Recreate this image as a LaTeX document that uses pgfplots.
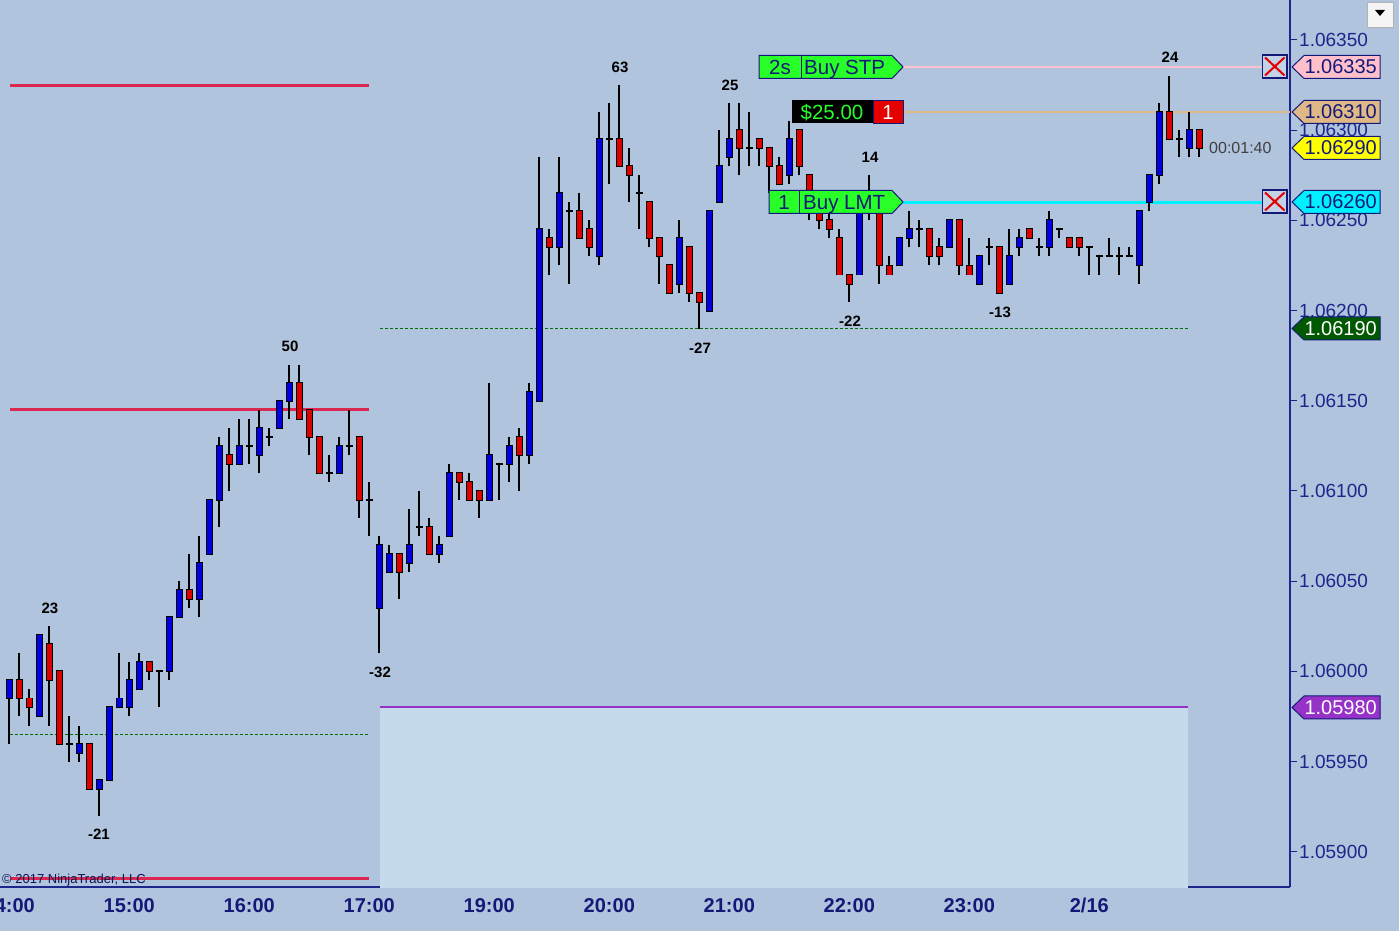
\documentclass[border=0pt]{standalone}
\usepackage{fontspec}
\setmainfont{Liberation Sans}
\usepackage{pgfplots}
\usepackage{pgfplotstable}
\pgfplotsset{compat=1.18}

\definecolor{bgc}{RGB}{176,196,222}
\definecolor{zonec}{RGB}{197,219,237}
\definecolor{upc}{RGB}{0,0,225}
\definecolor{dnc}{RGB}{220,0,0}
\definecolor{navyc}{RGB}{20,25,120}
\definecolor{axisc}{RGB}{28,38,140}
\definecolor{lvlc}{RGB}{220,40,80}
\definecolor{dgreenc}{RGB}{0,110,0}
\definecolor{purplec}{RGB}{150,50,200}
\definecolor{pinkc}{RGB}{255,192,203}
\definecolor{tanc}{RGB}{222,184,135}
\definecolor{yellowc}{RGB}{255,255,0}
\definecolor{cyanc}{RGB}{0,240,255}
\definecolor{orderc}{RGB}{40,255,40}
\definecolor{xboxc}{RGB}{195,210,230}

\newcommand\fs[1]{\fontsize{#1}{#1}\selectfont}

% candles: x = bar index (5 min bars from 14:00), prices
\pgfplotstableread{
x open high low close
0 1.05985 1.05995 1.05960 1.05995
3 1.05975 1.06020 1.05975 1.06020
7 1.05955 1.05970 1.05950 1.05960
9 1.05935 1.05940 1.05920 1.05940
10 1.05940 1.05980 1.05940 1.05980
11 1.05980 1.06010 1.05980 1.05985
12 1.05980 1.06005 1.05975 1.05995
13 1.05990 1.06010 1.05990 1.06005
16 1.06000 1.06030 1.05995 1.06030
17 1.06030 1.06050 1.06030 1.06045
19 1.06040 1.06075 1.06030 1.06060
20 1.06065 1.06095 1.06065 1.06095
21 1.06095 1.06130 1.06080 1.06125
23 1.06115 1.06140 1.06115 1.06125
25 1.06120 1.06145 1.06110 1.06135
27 1.06135 1.06150 1.06135 1.06150
28 1.06150 1.06170 1.06140 1.06160
33 1.06110 1.06130 1.06110 1.06125
37 1.06035 1.06075 1.06010 1.06070
38 1.06055 1.06070 1.06055 1.06065
40 1.06060 1.06090 1.06055 1.06070
43 1.06065 1.06075 1.06060 1.06070
44 1.06075 1.06115 1.06075 1.06110
48 1.06095 1.06160 1.06095 1.06120
50 1.06115 1.06130 1.06105 1.06125
52 1.06120 1.06160 1.06115 1.06155
53 1.06150 1.06285 1.06150 1.06245
55 1.06235 1.06285 1.06225 1.06265
59 1.06230 1.06310 1.06225 1.06295
67 1.06215 1.06250 1.06210 1.06240
70 1.06200 1.06255 1.06200 1.06255
71 1.06260 1.06300 1.06260 1.06280
72 1.06285 1.06315 1.06280 1.06295
78 1.06275 1.06305 1.06270 1.06295
85 1.06220 1.06260 1.06220 1.06255
89 1.06225 1.06240 1.06225 1.06240
90 1.06240 1.06255 1.06235 1.06245
94 1.06235 1.06250 1.06235 1.06250
97 1.06215 1.06230 1.06215 1.06230
100 1.06215 1.06245 1.06215 1.06230
101 1.06235 1.06245 1.06230 1.06240
104 1.06235 1.06255 1.06230 1.06250
113 1.06225 1.06255 1.06215 1.06255
114 1.06260 1.06275 1.06255 1.06275
115 1.06275 1.06315 1.06270 1.06310
118 1.06290 1.06310 1.06285 1.06300
}\upbars

\pgfplotstableread{
x open high low close
1 1.05995 1.06010 1.05975 1.05985
2 1.05985 1.05990 1.05970 1.05980
4 1.06015 1.06025 1.05970 1.05995
5 1.06000 1.06000 1.05960 1.05960
8 1.05960 1.05960 1.05935 1.05935
14 1.06005 1.06005 1.05995 1.06000
18 1.06045 1.06065 1.06035 1.06040
22 1.06120 1.06135 1.06100 1.06115
29 1.06160 1.06170 1.06140 1.06140
30 1.06145 1.06145 1.06120 1.06130
31 1.06130 1.06130 1.06110 1.06110
35 1.06130 1.06130 1.06085 1.06095
39 1.06065 1.06065 1.06040 1.06055
42 1.06080 1.06085 1.06065 1.06065
45 1.06110 1.06110 1.06095 1.06105
46 1.06105 1.06110 1.06095 1.06095
47 1.06100 1.06100 1.06085 1.06095
51 1.06130 1.06135 1.06100 1.06120
54 1.06240 1.06245 1.06220 1.06235
57 1.06255 1.06265 1.06240 1.06240
58 1.06245 1.06250 1.06230 1.06235
61 1.06295 1.06325 1.06280 1.06280
62 1.06280 1.06290 1.06260 1.06275
64 1.06260 1.06260 1.06235 1.06240
65 1.06240 1.06240 1.06215 1.06230
66 1.06225 1.06225 1.06210 1.06210
68 1.06235 1.06235 1.06205 1.06210
69 1.06210 1.06210 1.06190 1.06205
73 1.06300 1.06315 1.06275 1.06290
75 1.06295 1.06295 1.06280 1.06290
76 1.06290 1.06290 1.06265 1.06280
77 1.06280 1.06285 1.06270 1.06270
79 1.06300 1.06300 1.06275 1.06280
80 1.06275 1.06275 1.06250 1.06260
81 1.06255 1.06260 1.06245 1.06250
82 1.06250 1.06255 1.06240 1.06245
83 1.06240 1.06245 1.06220 1.06220
84 1.06220 1.06220 1.06205 1.06215
86 1.06260 1.06275 1.06250 1.06255
87 1.06255 1.06255 1.06215 1.06225
88 1.06225 1.06230 1.06220 1.06220
92 1.06245 1.06245 1.06225 1.06230
93 1.06235 1.06240 1.06225 1.06230
95 1.06250 1.06250 1.06220 1.06225
96 1.06225 1.06240 1.06220 1.06220
99 1.06235 1.06235 1.06210 1.06210
102 1.06245 1.06245 1.06240 1.06240
106 1.06240 1.06240 1.06235 1.06235
107 1.06240 1.06240 1.06230 1.06235
116 1.06310 1.06330 1.06295 1.06295
119 1.06300 1.06300 1.06285 1.06290
}\downbars

\pgfplotstableread{
x open high low close
6 1.05960 1.05975 1.05950 1.05960
15 1.06000 1.06000 1.05980 1.06000
24 1.06125 1.06140 1.06115 1.06125
26 1.06130 1.06135 1.06125 1.06130
32 1.06110 1.06120 1.06105 1.06110
34 1.06125 1.06145 1.06120 1.06125
36 1.06095 1.06105 1.06075 1.06095
41 1.06080 1.06100 1.06075 1.06080
49 1.06115 1.06115 1.06095 1.06115
56 1.06255 1.06260 1.06215 1.06255
60 1.06295 1.06315 1.06270 1.06295
63 1.06265 1.06275 1.06245 1.06265
74 1.06290 1.06310 1.06280 1.06290
91 1.06245 1.06250 1.06235 1.06245
98 1.06235 1.06240 1.06225 1.06235
103 1.06235 1.06240 1.06230 1.06235
105 1.06245 1.06245 1.06240 1.06245
108 1.06235 1.06235 1.06220 1.06235
109 1.06230 1.06230 1.06220 1.06230
110 1.06230 1.06240 1.06230 1.06230
111 1.06230 1.06235 1.06220 1.06230
112 1.06230 1.06235 1.06230 1.06230
117 1.06295 1.06300 1.06285 1.06295
}\dojibars

\pgfplotsset{
  wick/.style={draw=none, mark=none, forget plot,
    error bars/.cd, y dir=plus, y explicit, error mark=none,
    error bar style={draw=black, line width=2pt, line cap=butt}},
  bodybar/.style 2 args={draw=none, mark=none, forget plot,
    error bars/.cd, y dir=plus, y explicit, error mark=none,
    error bar style={draw=#1, line width=#2, line cap=butt}},
}

\newcommand\pricetag[4]{%
  \draw[navyc, line width=1pt, fill=#3] (1292,#1) -- (1304,#1-11.5) -- (1380,#1-11.5)
     -- (1380,#1+11.5) -- (1304,#1+11.5) -- cycle;
  \node[anchor=east, inner sep=0pt, text=#4, font=\fs{20}] at (1377,#1) {#2};}
\newcommand\xbox[1]{%
  \draw[navyc, line width=1.2pt, fill=xboxc] (1262.5,#1-11.5) rectangle (1287,#1+11.5);
  \draw[red!90!black, line width=2pt] (1265,#1-9) -- (1284.5,#1+9) (1265,#1+9) -- (1284.5,#1-9);}

\begin{document}
\begin{tikzpicture}[x=1pt,y=1pt]
\fill[bgc] (0,0) rectangle (1399,931);
\path[use as bounding box] (0,0) rectangle (1399,931);
\begin{axis}[
  at={(0pt,44pt)}, anchor=south west,
  scale only axis, width=1290pt, height=887pt,
  xmin=-0.93, xmax=128.07,
  ymin=1.0588049, ymax=1.0637217,
  axis x line*=bottom, axis y line*=right,
  axis line style={axisc, line width=1.2pt, -},
  xtick={0,12,24,36,48,60,72,84,96,108},
  xticklabels={14:00,15:00,16:00,17:00,19:00,20:00,21:00,22:00,23:00,2/16},
  xtick style={draw=none},
  xticklabel style={font={\fs{20}\bfseries}, text=navyc, anchor=north, yshift=-4pt, inner sep=0pt},
  ytick={1.059,1.0595,1.06,1.0605,1.061,1.0615,1.062,1.0625,1.063,1.0635},
  yticklabels={1.05900,1.05950,1.06000,1.06050,1.06100,1.06150,1.06200,1.06250,1.06300,1.06350},
  tick align=outside, major tick length=7pt,
  ytick style={axisc, line width=1pt},
  yticklabel style={font=\fs{19}, text=axisc, anchor=west, inner sep=0pt, xshift=2pt},
]
% zone and levels
\addplot[fill=zonec, draw=none] coordinates {(37.07,1.0588) (37.07,1.0598) (117.87,1.0598) (117.87,1.0588)} -- cycle;
\addplot[purplec, line width=2pt] coordinates {(37.07,1.0598) (117.87,1.0598)};
\addplot[lvlc, line width=3pt] coordinates {(0.07,1.06325) (35.97,1.06325)};
\addplot[lvlc, line width=3pt] coordinates {(0.07,1.06145) (35.97,1.06145)};
\addplot[lvlc, line width=3pt] coordinates {(0.07,1.05885) (35.97,1.05885)};
\addplot[dgreenc, line width=0.8pt, dash pattern=on 3pt off 2pt] coordinates {(0.07,1.05965) (35.9,1.05965)};
\addplot[dgreenc, line width=0.8pt, dash pattern=on 3pt off 2pt] coordinates {(37.07,1.0619) (117.87,1.0619)};
\addplot[pinkc, line width=1.5pt] coordinates {(89.1,1.06335) (125.3,1.06335)};
\addplot[tanc, line width=2pt] coordinates {(89.4,1.0631) (128.07,1.0631)};
\addplot[cyanc, line width=3pt] coordinates {(89.1,1.0626) (125.3,1.0626)};
% wicks
\addplot[wick] table[x=x, y=low, y error expr=\thisrow{high}-\thisrow{low}] \upbars;
\addplot[wick] table[x=x, y=low, y error expr=\thisrow{high}-\thisrow{low}] \downbars;
\addplot[wick] table[x=x, y=low, y error expr=\thisrow{high}-\thisrow{low}] \dojibars;
% bodies (black outline, then colour)
\addplot[bodybar={black}{7pt}]
  table[x=x, y expr=\thisrow{open}-0.0000055, y error expr=\thisrow{close}-\thisrow{open}+0.000011] \upbars;
\addplot[bodybar={upc}{5pt}]
  table[x=x, y=open, y error expr=\thisrow{close}-\thisrow{open}] \upbars;
\addplot[bodybar={black}{7pt}]
  table[x=x, y expr=\thisrow{close}-0.0000055, y error expr=\thisrow{open}-\thisrow{close}+0.000011] \downbars;
\addplot[bodybar={dnc}{5pt}]
  table[x=x, y=close, y error expr=\thisrow{open}-\thisrow{close}] \downbars;
\addplot[only marks, mark=-, mark size=3.5pt, mark options={line width=2pt, black}]
  table[x=x, y=open] \dojibars;
\end{axis}

\begin{scope}[shift={(0,931)}, yscale=-1]
% swing counts
\begin{scope}[every node/.style={font={\fs{15}\bfseries}, inner sep=0pt, text=black}]
\node at (50,608) {23};
\node at (99,834) {-21};
\node at (290,346) {50};
\node at (380,672) {-32};
\node at (620,67) {63};
\node at (700,348) {-27};
\node at (730,85) {25};
\node at (870,157) {14};
\node at (850,321) {-22};
\node at (1000,312) {-13};
\node at (1170,57) {24};
\end{scope}
% orders
\draw[navyc, line width=1pt, fill=orderc] (759,55.5) -- (892,55.5) -- (903,67) -- (892,78.5) -- (759,78.5) -- cycle;
\draw[navyc, line width=1pt] (801,55.5) -- (801,78.5);
\node[anchor=base, inner sep=0pt, text=navyc, font=\fs{20.5}] at (780,74.5) {2s};
\node[anchor=base west, inner sep=0pt, text=navyc, font=\fs{20.5}] at (804,74.5) {Buy STP};
\fill[black] (792,100.5) rectangle (873,123.5);
\draw[navyc, line width=1pt, fill=red!90!black] (873,100.5) rectangle (903,123.5);
\node[anchor=base, inner sep=0pt, text=orderc, font=\fs{20.5}] at (832,119.5) {\$25.00};
\node[anchor=base, inner sep=0pt, text=white, font=\fs{20.5}] at (888,119.5) {1};
\draw[navyc, line width=1pt, fill=orderc] (769,190.5) -- (892,190.5) -- (903,202) -- (892,213.5) -- (769,213.5) -- cycle;
\draw[navyc, line width=1pt] (799,190.5) -- (799,213.5);
\node[anchor=base, inner sep=0pt, text=navyc, font=\fs{20.5}] at (784,209.5) {1};
\node[anchor=base west, inner sep=0pt, text=navyc, font=\fs{20.5}] at (803,209.5) {Buy LMT};
% close boxes
\xbox{66.5}
\xbox{201.5}
% price tags
\pricetag{67}{1.06335}{pinkc}{navyc}
\pricetag{112}{1.06310}{tanc}{navyc}
\pricetag{148}{1.06290}{yellowc}{navyc}
\pricetag{202}{1.06260}{cyanc}{navyc}
\pricetag{328.5}{1.06190}{dgreenc!80!black}{white}
\pricetag{707.5}{1.05980}{purplec}{white}
% timer, copyright, button
\node[anchor=west, inner sep=0pt, text=black!75, font=\fs{16}] at (1209,148) {00:01:40};
\node[anchor=west, inner sep=0pt, text=navyc!70!black, font=\fs{13}] at (2,880) {© 2017 NinjaTrader, LLC};
\draw[gray!60, fill=gray!8] (1367,2) rectangle (1393,27);
\fill[black] (1375,10) -- (1385,10) -- (1380,16) -- cycle;
\end{scope}
\end{tikzpicture}
\end{document}
